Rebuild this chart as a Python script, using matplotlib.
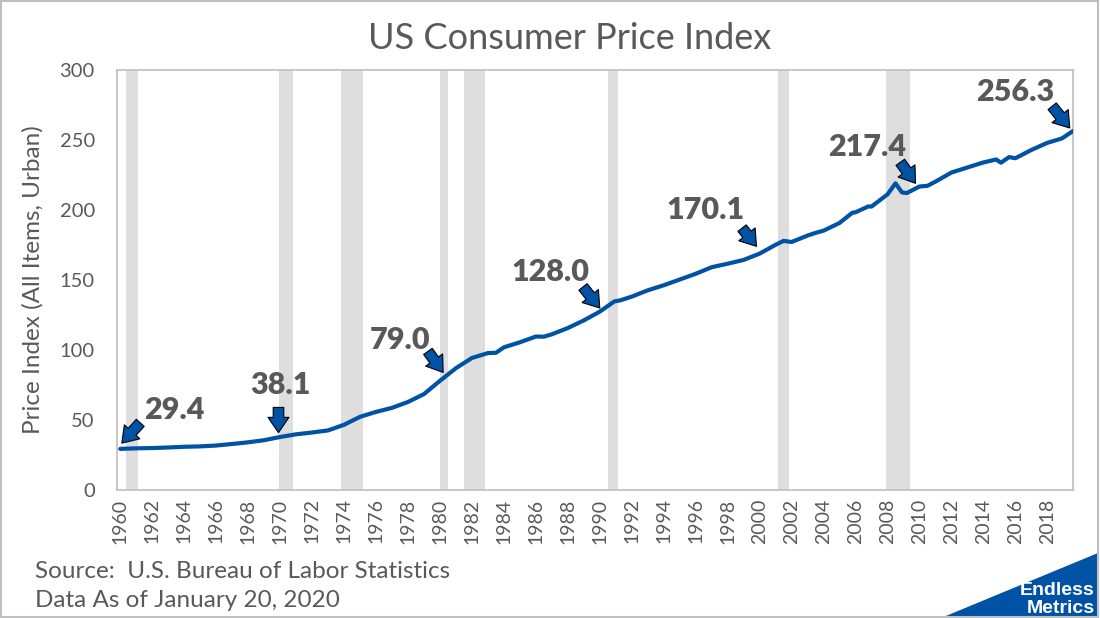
import matplotlib
matplotlib.use("Agg")
import matplotlib.pyplot as plt
from matplotlib.patches import Polygon, Rectangle

plt.rcParams['font.family'] = ['Lato', 'DejaVu Sans']

# CPI-U (all items, urban)
years = [1960, 1961, 1962, 1963, 1964, 1965, 1966, 1967, 1968, 1969,
         1970, 1971, 1972, 1973, 1974, 1975, 1976, 1977, 1978, 1979,
         1980, 1981, 1982, 1983, 1983.5, 1984, 1985, 1986, 1986.5, 1987, 1988, 1989,
         1990, 1990.9, 1991.3, 1992, 1993, 1994, 1995, 1996, 1997, 1998, 1999,
         2000, 2001, 2001.5, 2002, 2003, 2003.5, 2004, 2005, 2005.8, 2006, 2006.8, 2007,
         2008, 2008.5, 2008.9, 2009.2, 2010, 2010.5, 2011, 2012, 2013, 2014,
         2014.8, 2015.1, 2015.6, 2016, 2017, 2018, 2018.9, 2019, 2019.6]
cpi = [29.4, 29.8, 30.0, 30.4, 30.9, 31.2, 31.8, 32.9, 34.1, 35.6,
       37.9, 39.8, 41.1, 42.6, 46.6, 52.3, 55.8, 58.7, 62.9, 68.5,
       78.0, 87.0, 94.3, 97.8, 98.0, 101.9, 105.5, 109.6, 109.5, 111.2, 115.7, 121.1,
       127.4, 134.6, 135.5, 138.1, 142.6, 146.2, 150.3, 154.4, 159.1, 161.6, 164.3,
       168.8, 175.1, 177.9, 177.1, 181.7, 183.6, 185.2, 190.7, 198.0, 198.3, 202.5, 202.4,
       211.1, 219.0, 212.5, 212.0, 216.7, 217.2, 220.2, 226.7, 230.3, 233.9,
       236.0, 233.7, 237.7, 236.9, 242.8, 247.9, 251.0, 251.7, 256.3]

recessions = [(1960.33, 1961.08), (1969.92, 1970.83), (1973.83, 1975.17),
              (1980.0, 1980.5), (1981.5, 1982.83), (1990.5, 1991.17),
              (2001.17, 2001.83), (2007.92, 2009.42)]

labels = ['29.4', '38.1', '79.0', '128.0', '170.1', '217.4', '256.3']
label_pos = [(1963.4, 57), (1970.0, 75), (1977.5, 107), (1986.9, 156),
             (1996.6, 200), (2006.7, 245), (2016.0, 284)]
arrow_tail = [(1961.25, 48), (1969.9, 59), (1979.25, 99), (1988.95, 145),
              (1998.9, 187), (2008.8, 234), (2018.3, 274)]
arrow_tip = [(1960.1, 33.5), (1969.9, 41), (1980.2, 84), (1990.0, 130),
             (1999.8, 174), (2009.75, 219), (2019.4, 258.5)]

grey = '#595959'
blue = '#0052A5'

fig = plt.figure(figsize=(11, 6.18), dpi=100)
ax = fig.add_axes([0.1064, 0.207, 0.869, 0.68])

for s, e in recessions:
    ax.axvspan(s, e, color='#dedede', lw=0, zorder=0)

ax.plot(years, cpi, color=blue, lw=3.0, solid_capstyle='round',
        solid_joinstyle='round', zorder=3)

for txt, pos, tail, tip in zip(labels, label_pos, arrow_tail, arrow_tip):
    ax.text(pos[0], pos[1], txt, ha='center', va='center', fontsize=22,
            fontweight='heavy', color=grey, zorder=5)
    ax.annotate('', xy=tip, xytext=tail, zorder=4,
                arrowprops=dict(arrowstyle='simple,head_length=0.55,head_width=0.75,tail_width=0.38',
                                mutation_scale=20, shrinkA=0, shrinkB=0,
                                fc=blue, ec='black', lw=0.8))

ax.set_xlim(1959.8, 2019.6)
ax.set_ylim(0, 300)
ax.set_xticks(range(1960, 2019, 2))
ax.set_xticklabels([str(y) for y in range(1960, 2019, 2)], rotation=90,
                   fontsize=14, color=grey)
ax.set_yticks(range(0, 301, 50))
ax.set_yticklabels([str(v) for v in range(0, 301, 50)], fontsize=14.5, color=grey)
ax.tick_params(axis='y', length=0, pad=16)
ax.tick_params(axis='x', length=0, pad=6)
for sp in ax.spines.values():
    sp.set_color('#bfbfbf')
    sp.set_linewidth(1.2)

ax.set_ylabel('Price Index (All Items, Urban)', fontsize=17.5, color=grey)
ax.yaxis.set_label_coords(-0.077, 0.5)
fig.text(0.518, 0.938, 'US Consumer Price Index', ha='center', va='center',
         fontsize=26, color=grey)

fig.text(0.032, 0.076, 'Source:  U.S. Bureau of Labor Statistics', fontsize=17.5,
         color=grey, va='center')
fig.text(0.032, 0.029, 'Data As of January 20, 2020', fontsize=17.5,
         color=grey, va='center')

# logo corner
fig.patches.append(Polygon([(0.855, 0.0), (0.998, 0.0), (0.998, 0.105)], closed=True,
                           transform=fig.transFigure, fc='#0052A5', ec='none'))
fig.text(0.995, 0.045, 'Endless', ha='right', va='center', fontsize=14,
         fontweight='bold', color='white', family=['Liberation Sans', 'DejaVu Sans'])
fig.text(0.995, 0.016, 'Metrics', ha='right', va='center', fontsize=14,
         fontweight='bold', color='white', family=['Liberation Sans', 'DejaVu Sans'])

fig.patches.append(Rectangle((0.001, 0.002), 0.997, 0.996, transform=fig.transFigure,
                             fill=False, ec='#bfbfbf', lw=1.5))

fig.savefig('out.png', dpi=100)
